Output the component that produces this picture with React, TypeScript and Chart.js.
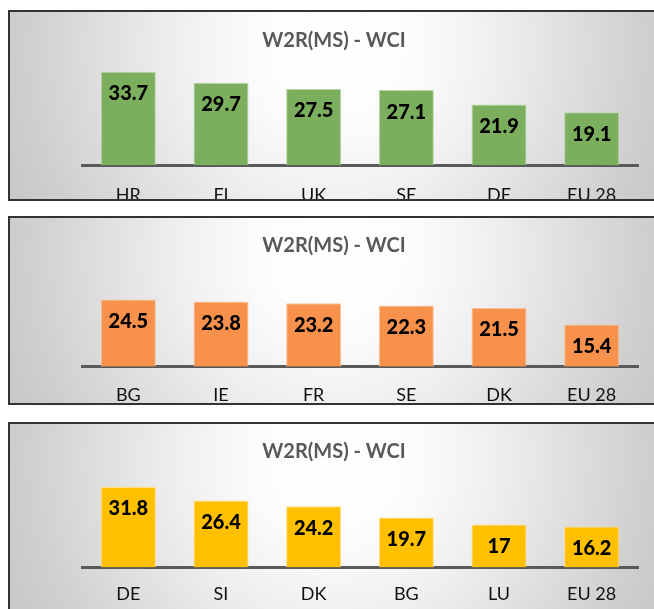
import React, { useEffect, useRef } from "react";
import { Chart, registerables } from "chart.js";

Chart.register(...registerables);

const chartTitle = "W2R(MS) - WCI";

const categories1 = ["HR", "FI", "UK", "SE", "DE", "EU 28"];
const values1 = [33.7, 29.7, 27.5, 27.1, 21.9, 19.1];

const categories2 = ["BG", "IE", "FR", "SE", "DK", "EU 28"];
const values2 = [24.5, 23.8, 23.2, 22.3, 21.5, 15.4];

const categories3 = ["DE", "SI", "DK", "BG", "LU", "EU 28"];
const values3 = [31.8, 26.4, 24.2, 19.7, 17, 16.2];

const FONT = "Lato, 'Open Sans', sans-serif";

const valueLabelPlugin = {
  id: "valueLabels",
  afterDatasetsDraw(chart: any) {
    const ctx = chart.ctx;
    const meta = chart.getDatasetMeta(0);
    const data = chart.data.datasets[0].data;
    ctx.save();
    ctx.font = `900 20px ${FONT}`;
    ctx.fillStyle = "#000000";
    ctx.textAlign = "center";
    ctx.textBaseline = "middle";
    meta.data.forEach((bar: any, i: number) => {
      ctx.fillText(String(data[i]), bar.x, bar.y + 22);
    });
    ctx.restore();
  },
};

type PanelProps = {
  labels: string[];
  values: number[];
  color: string;
  edge: string;
  top: number;
  contentHeight: number;
  canvasHeight: number;
  titlePadTop: number;
  yMax: number;
  tickPad: number;
};

function Panel(p: PanelProps) {
  const ref = useRef<HTMLCanvasElement | null>(null);
  useEffect(() => {
    if (!ref.current) return;
    const chart = new Chart(ref.current, {
      type: "bar",
      data: {
        labels: p.labels,
        datasets: [
          {
            data: p.values,
            backgroundColor: p.color,
            borderColor: p.edge,
            borderWidth: 1,
            barPercentage: 0.594,
            categoryPercentage: 1,
          },
        ],
      },
      options: {
        responsive: false,
        animation: false,
        layout: { padding: { left: 20, right: 32, top: 0, bottom: 0 } },
        plugins: {
          legend: { display: false },
          tooltip: { enabled: false },
          title: {
            display: true,
            text: chartTitle,
            color: "#595959",
            font: { family: FONT, size: 20, weight: "bold", lineHeight: 1.2 },
            padding: { top: p.titlePadTop, bottom: 4 },
          },
        },
        scales: {
          x: {
            grid: { display: false, drawTicks: false },
            border: { display: true, color: "#595959", width: 3 },
            ticks: {
              color: "#111111",
              font: { family: FONT, size: 18, lineHeight: 1.2 },
              padding: p.tickPad,
              maxRotation: 0,
              autoSkip: false,
            },
          },
          y: {
            min: 0,
            max: p.yMax,
            display: true,
            grid: { display: false, drawTicks: false },
            border: { display: false },
            ticks: { display: false },
            afterFit: (scale: any) => {
              scale.width = 52;
            },
          },
        },
      },
      plugins: [valueLabelPlugin],
    });
    return () => chart.destroy();
  }, []);

  return (
    <div
      style={{
        position: "absolute",
        left: 8,
        top: p.top,
        width: 660,
        height: p.contentHeight,
        border: "2px solid #333333",
        overflow: "hidden",
        background:
          "radial-gradient(circle at 326px 36px, #ffffff 0px, #fcfcfc 80px, #efefef 160px, #dfdfdf 235px, #d0d0d0 305px, #c4c4c4 380px)",
      }}
    >
      <canvas
        ref={ref}
        width={660}
        height={p.canvasHeight}
        style={{ display: "block", width: 660, height: p.canvasHeight }}
      />
    </div>
  );
}

export default function App() {
  return (
    <div
      style={{
        position: "fixed",
        left: 0,
        top: 0,
        width: 654,
        height: 609,
        overflow: "hidden",
        background: "#ffffff",
      }}
    >
      <Panel
        labels={categories1}
        values={values1}
        color="#7BAF5D"
        edge="#B9D7A6"
        top={10}
        contentHeight={187}
        canvasHeight={213}
        titlePadTop={17}
        yMax={39}
        tickPad={19}
      />
      <Panel
        labels={categories2}
        values={values2}
        color="#F8914B"
        edge="#FBC49D"
        top={216}
        contentHeight={185}
        canvasHeight={205}
        titlePadTop={16}
        yMax={38.2}
        tickPad={17.3}
      />
      <Panel
        labels={categories3}
        values={values3}
        color="#FFC000"
        edge="#FFDF80"
        top={422}
        contentHeight={200}
        canvasHeight={197}
        titlePadTop={15.7}
        yMax={39.4}
        tickPad={16}
      />
    </div>
  );
}
